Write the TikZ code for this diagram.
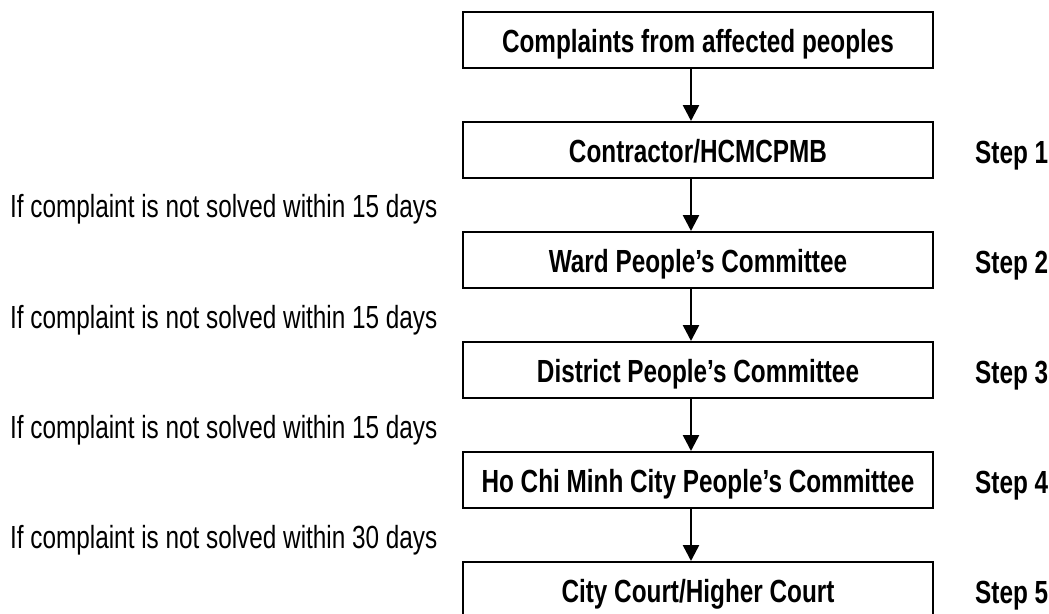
\documentclass[tikz,border=0pt]{standalone}
\usepackage{fontspec}
\setmainfont{Liberation Sans}[FakeStretch=0.76]
\usetikzlibrary{
    arrows.meta,
    positioning
}

\begin{document}
\begin{tikzpicture}[
    x=1pt,
    y=-1pt,
    node distance=52pt and 41pt,
    stage/.style={
        rectangle,
        draw=black,
        line width=2pt,
        minimum width=470pt,
        minimum height=56pt,
        align=center,
        text height=25pt,
        text depth=0pt,
        font=\fontsize{32}{38}\selectfont\bfseries
    },
    steplabel/.style={
        inner sep=0pt,
        anchor=west,
        text height=23pt,
        text depth=0pt,
        yshift=-1.5pt,
        font=\fontsize{32}{38}\selectfont\bfseries
    },
    note/.style={
        inner sep=0pt,
        anchor=west,
        text height=23pt,
        text depth=0pt,
        font=\fontsize{32}{38}\selectfont
    },
    arrow/.style={
        -{Triangle[length=16pt,width=16pt]},
        line width=2.5pt,
        draw=black
    }
]

\useasboundingbox (0,0) rectangle (1049,613);

% =====================================================
% Stages
% =====================================================

\node[stage] (complaints) at (698,40)
{Complaints from affected peoples};

\node[stage, below=of complaints] (contractor)
{Contractor/HCMCPMB};

\node[stage, below=of contractor] (ward)
{Ward People's Committee};

\node[stage, below=of ward] (district)
{District People's Committee};

\node[stage, below=of district] (hcmc)
{Ho Chi Minh City People's Committee};

\node[stage, below=of hcmc] (court)
{City Court/Higher Court};

% =====================================================
% Step labels
% =====================================================

\node[steplabel, right=of contractor] (s1) {Step 1};
\node[steplabel, right=of ward] (s2) {Step 2};
\node[steplabel, right=of district] (s3) {Step 3};
\node[steplabel, right=of hcmc] (s4) {Step 4};
\node[steplabel, right=of court] (s5) {Step 5};

% =====================================================
% Conditions
% =====================================================

\node[note] (n2) at (10,206) {If complaint is not solved within 15 days};
\node[note] (n3) at (10,316.5) {If complaint is not solved within 15 days};
\node[note] (n4) at (10,427) {If complaint is not solved within 15 days};
\node[note] (n5) at (10,537) {If complaint is not solved within 30 days};

% =====================================================
% Arrows
% =====================================================

\draw[arrow] ([xshift=-7pt]complaints.south) -- ([xshift=-7pt]contractor.north);
\draw[arrow] ([xshift=-7pt]contractor.south) -- ([xshift=-7pt]ward.north);
\draw[arrow] ([xshift=-7pt]ward.south) -- ([xshift=-7pt]district.north);
\draw[arrow] ([xshift=-7pt]district.south) -- ([xshift=-7pt]hcmc.north);
\draw[arrow] ([xshift=-7pt]hcmc.south) -- ([xshift=-7pt]court.north);

\end{tikzpicture}
\end{document}
